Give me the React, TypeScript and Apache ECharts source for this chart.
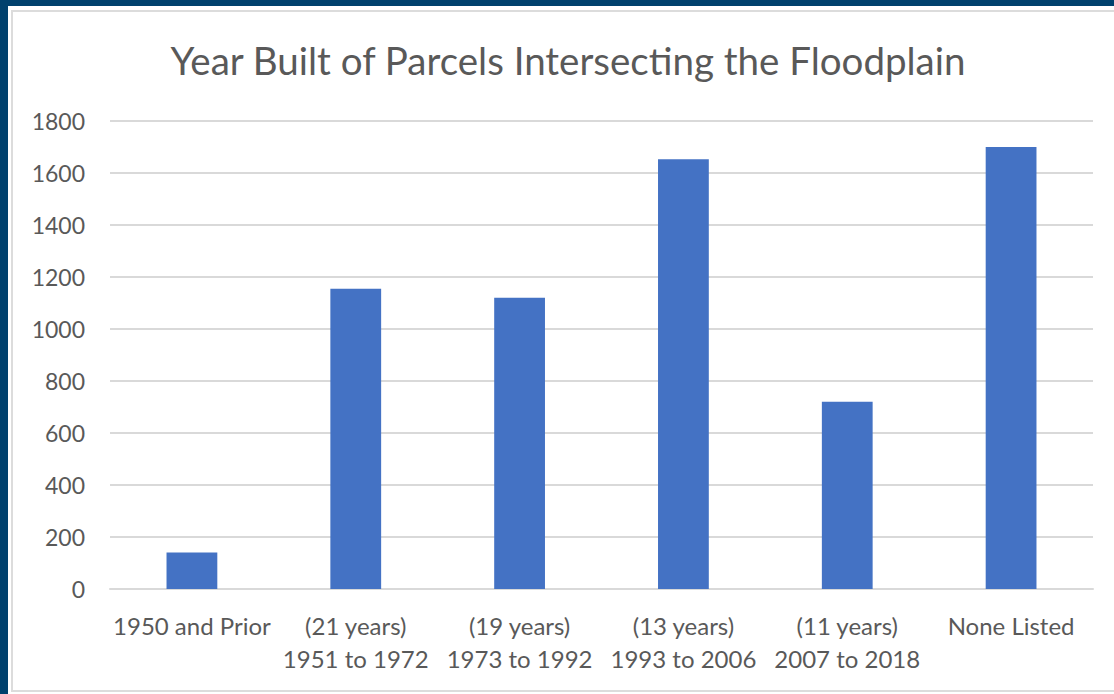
import React, { useEffect, useRef } from "react";
import * as echarts from "echarts";

const categories = [
  "1950 and Prior",
  "(21 years)\n1951 to 1972",
  "(19 years)\n1973 to 1992",
  "(13 years)\n1993 to 2006",
  "(11 years)\n2007 to 2018",
  "None Listed",
];
const counts = [140, 1155, 1120, 1653, 720, 1700];
const yTicks = { min: 0, max: 1800, interval: 200 };
const titleText = "Year Built of Parcels Intersecting the Floodplain";

const FONT = "Lato, 'Open Sans', sans-serif";
const TEXT = "#595959";

export default function App() {
  const ref = useRef<HTMLDivElement>(null);
  useEffect(() => {
    if (!ref.current) return;
    const chart = echarts.init(ref.current, undefined, { renderer: "svg" });
    chart.setOption({
      animation: false,
      textStyle: { fontFamily: FONT },
      graphic: [
        {
          type: "text",
          x: 568,
          y: 60,
          style: {
            text: titleText,
            fill: TEXT,
            font: `38.5px ${FONT}`,
            textAlign: "center",
            textVerticalAlign: "middle",
          },
        },
      ],
      grid: { left: 110, right: 21, top: 121, bottom: 105, containLabel: false },
      xAxis: {
        type: "category",
        data: categories,
        axisLine: { show: true, lineStyle: { color: "#d9d9d9", width: 2 } },
        axisTick: { show: false },
        axisLabel: {
          color: TEXT,
          fontSize: 24,
          fontFamily: FONT,
          lineHeight: 33,
          margin: 20,
          interval: 0,
        },
      },
      yAxis: {
        type: "value",
        min: yTicks.min,
        max: yTicks.max,
        interval: yTicks.interval,
        axisLine: { show: false },
        axisTick: { show: false },
        splitLine: { lineStyle: { color: "#d9d9d9", width: 2 } },
        axisLabel: {
          color: TEXT,
          fontSize: 23,
          fontFamily: FONT,
          margin: 25,
          formatter: (v: number) => String(v),
        },
      },
      series: [
        {
          type: "bar",
          data: counts,
          barWidth: "31%",
          itemStyle: { color: "#4472C4" },
        },
      ],
    });
    return () => chart.dispose();
  }, []);

  return (
    <div
      style={{
        position: "fixed",
        left: 0,
        top: 0,
        width: 1114,
        height: 694,
        background: "#00416d",
        overflow: "hidden",
      }}
    >
      <div
        style={{
          position: "absolute",
          left: 8,
          top: 6,
          width: 1110,
          height: 688,
          background: "#ffffff",
        }}
      />
      <div
        style={{
          position: "absolute",
          left: 11,
          top: 10,
          width: 1120,
          height: 678,
          border: "2px solid #dcdcdc",
        }}
      />
      <div
        ref={ref}
        style={{ position: "absolute", left: 0, top: 0, width: 1114, height: 694 }}
      />
    </div>
  );
}
